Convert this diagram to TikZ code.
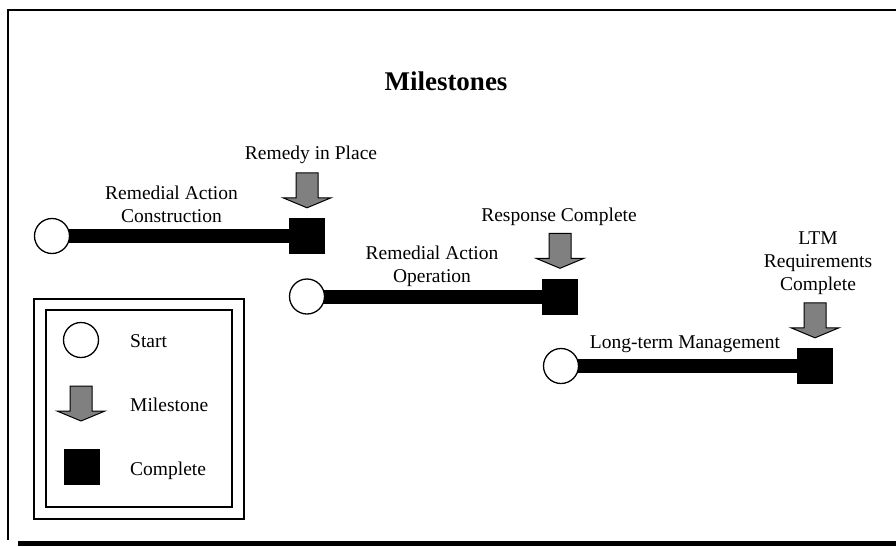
\documentclass[tikz,border=0pt]{standalone}
\usepackage{fontspec}
\setmainfont{Liberation Serif}
\usetikzlibrary{positioning,backgrounds}

\definecolor{msgray}{RGB}{128,128,128}

\tikzset{
    milestone/.pic={
        \filldraw[fill=msgray, line width=1pt] (0,0) -- (-24,-10) -- (-11,-10) -- (-11,-35) -- (11,-35) -- (11,-10) -- (24,-10) -- cycle;
    }
}

\begin{document}
\begin{tikzpicture}[x=1pt, y=-1pt,
    startnode/.style={draw, circle, fill=white, line width=1.3pt, minimum size=35pt, inner sep=0pt},
    donenode/.style={fill=black, minimum size=36pt, inner sep=0pt},
    txt/.style={font=\fontsize{19.5}{23}\selectfont, align=center, inner sep=0pt},
    bar/.style={line width=14pt}]
    \useasboundingbox (0,0) rectangle (896,546);

    % frame
    \draw[line width=1.5pt] (8,540) -- (8,10) -- (896,10);
    \fill (18,541) rectangle (896,546);

    \node[font=\fontsize{27}{32}\selectfont\bfseries, anchor=base] (title) at (446,90) {Milestones};

    % phases
    \node[startnode] (rac) at (52,236) {};
    \node[donenode, right of=rac, node distance=255pt] (racdone) {};
    \node[startnode] (rao) at (307,296.5) {};
    \node[donenode, right of=rao, node distance=253pt] (raodone) {};
    \node[startnode] (ltm) at (561,366) {};
    \node[donenode, right of=ltm, node distance=254pt] (ltmdone) {};

    \begin{pgfonlayer}{background}
        \draw[bar] (rac.center) -- (racdone.center);
        \draw[bar] (rao.center) -- (raodone.center);
        \draw[bar] (ltm.center) -- (ltmdone.center);
    \end{pgfonlayer}

    \pic at ([yshift=10pt]racdone.north) {milestone};
    \pic at ([yshift=10pt]raodone.north) {milestone};
    \pic at ([yshift=10pt]ltmdone.north) {milestone};

    \node[txt, anchor=base] (racname) at (171.5,222) {Remedial Action\\Construction};
    \node[txt, anchor=base] (remedy) at (311,159) {Remedy in Place};
    \node[txt, anchor=base] (raoname) at (432,282) {Remedial Action\\Operation};
    \node[txt, anchor=base] (response) at (559,221) {Response Complete};
    \node[txt, anchor=base] (ltmname) at (685,348) {Long-term Management};
    \node[txt, anchor=base] (ltmreq) at (818,290) {LTM\\Requirements\\Complete};

    % legend
    \draw[line width=1.2pt] (34,299) rectangle (244,519);
    \draw[line width=1.2pt] (46,310) rectangle (232,507);
    \node[startnode] (keystart) at (81,340) {};
    \node[txt, anchor=base west] (keystarttxt) at (130,347) {Start};
    \pic at (81,421) {milestone};
    \node[txt, anchor=base west] (keymstxt) at (130,411) {Milestone};
    \node[donenode] (keydone) at (81.5,466.5) {};
    \node[txt, anchor=base west] (keydonetxt) at (130,475) {Complete};
\end{tikzpicture}
\end{document}
